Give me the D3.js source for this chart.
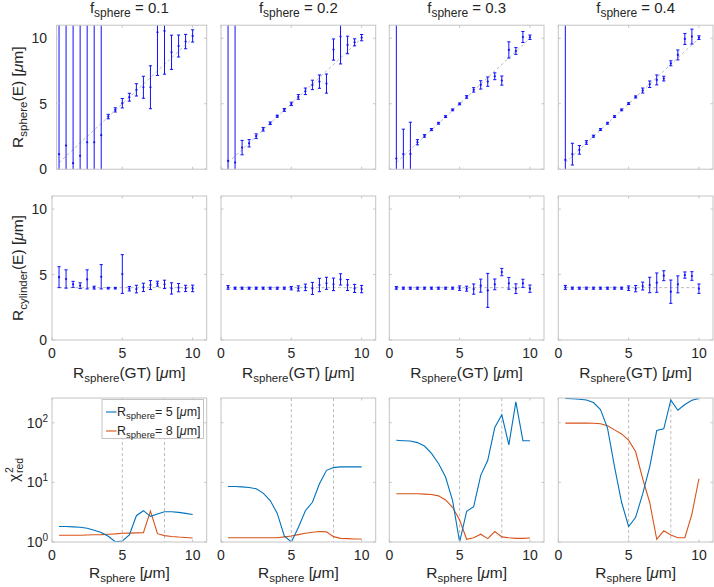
<!DOCTYPE html>
<html><head><meta charset="utf-8">
<script src="https://cdn.jsdelivr.net/npm/d3@7/dist/d3.min.js"></script>
<style>
body{margin:0;background:#fff}
svg{display:block}
text{font-family:"Liberation Sans",Arial,Helvetica,sans-serif;fill:#262626}
</style>
</head><body>
<svg id="c" width="714" height="587"></svg>
<script>
// ---------------- data ----------------
const rGT = [0.5,1,1.5,2,2.5,3,3.5,4,4.5,5,5.5,6,6.5,7,7.5,8,8.5,9,9.5,10];
const fractions = ["0.1","0.2","0.3","0.4"];
const linTicks = [0,5,10];
const logTicks = [1,10,100];
const logTickExp = ["0","1","2"];
const cylinderGT = 4;
const refRadii = [5,8];
const legendLabels = ["5","8"];

const sphereEst01 = [1.15,1.81,0.46,1.02,2.06,2.06,2.60,4.02,4.53,5.04,5.50,6.06,6.26,6.26,10.46,10.56,8.93,9.41,9.75,10.18];
const sphereErr01 = [30,30,30,30,30,30,30,0.17,0.16,0.36,0.30,0.47,0.84,1.64,3.30,3.30,1.31,0.84,0.55,0.47];
const sphereEst02 = [0.64,0.51,1.65,1.98,2.52,3.05,3.51,4.05,4.53,4.99,5.52,5.95,6.44,6.69,6.54,9.14,10.13,9.49,9.69,10.05];
const sphereErr02 = [30,30,0.55,0.28,0.18,0.14,0.10,0.08,0.11,0.13,0.18,0.25,0.36,0.51,0.73,0.81,2.09,0.67,0.27,0.24];
const sphereEst03 = [0.81,1.15,1.17,2.06,2.54,3.03,3.51,4.02,4.53,4.99,5.52,6.06,6.44,6.69,7.10,6.77,9.11,9.03,10.10,10.08];
const sphereErr03 = [30,1.91,2.42,0.20,0.10,0.08,0.07,0.07,0.07,0.07,0.10,0.17,0.32,0.36,0.26,0.35,0.62,0.26,0.42,0.17];
const sphereEst04 = [0.71,1.15,1.48,2.04,2.52,3.03,3.51,4.02,4.53,5.01,5.52,6.01,6.49,6.82,6.92,8.09,8.73,9.95,10.13,10.05];
const sphereErr04 = [30,0.83,0.33,0.14,0.08,0.07,0.07,0.07,0.07,0.07,0.08,0.19,0.25,0.38,0.18,0.19,0.38,0.42,0.57,0.14];

const cylEst01 = [4.80,4.66,4.25,4.15,4.63,4.00,4.83,3.96,3.96,5.04,3.92,3.89,4.02,4.20,4.30,4.25,3.94,4.00,3.94,3.94];
const cylErr01 = [0.80,0.70,0.23,0.22,0.73,0.11,0.93,0.06,0.06,1.48,0.17,0.29,0.32,0.34,0.19,0.32,0.43,0.32,0.24,0.25];
const cylEst02 = [4.02,3.96,3.96,3.96,3.96,3.96,3.96,3.96,3.96,3.96,3.94,4.02,3.94,4.20,4.33,4.25,4.63,4.20,3.94,3.89];
const cylErr02 = [0.14,0.08,0.08,0.08,0.08,0.08,0.08,0.08,0.08,0.13,0.20,0.25,0.46,0.51,0.46,0.48,0.43,0.42,0.31,0.28];
const cylEst03 = [3.98,3.96,3.96,3.96,3.96,3.96,3.96,3.96,3.96,3.96,3.92,3.89,4.15,3.79,4.25,5.19,4.33,3.92,4.33,3.92];
const cylErr03 = [0.10,0.08,0.08,0.08,0.08,0.08,0.08,0.08,0.08,0.17,0.19,0.39,0.50,1.30,0.41,0.28,0.45,0.37,0.31,0.28];
const cylEst04 = [4.02,3.96,3.96,3.96,3.96,3.96,3.96,3.96,3.96,3.96,3.92,4.12,4.20,4.38,4.91,3.69,4.25,4.96,4.89,3.92];
const cylErr04 = [0.15,0.08,0.08,0.08,0.08,0.08,0.08,0.08,0.08,0.17,0.24,0.30,0.59,0.74,0.38,0.89,0.65,0.24,0.33,0.36];

const chi5_01 = [1.82,1.82,1.79,1.77,1.70,1.58,1.44,1.25,1.01,1.04,1.31,2.76,3.35,2.69,2.94,3.22,3.22,3.14,3.02,2.90];
const chi8_01 = [1.30,1.30,1.30,1.30,1.31,1.32,1.33,1.35,1.37,1.40,1.41,1.42,1.43,3.30,1.38,1.28,1.24,1.21,1.19,1.17];
const chi5_02 = [8.55,8.55,8.40,8.20,7.80,6.60,4.95,3.02,1.26,1.00,1.75,3.35,4.64,9.50,15.9,17.7,18.2,18.2,18.2,18.2];
const chi8_02 = [1.18,1.18,1.18,1.18,1.18,1.18,1.18,1.18,1.22,1.26,1.33,1.40,1.46,1.50,1.48,1.23,1.15,1.14,1.12,1.12];
const chi5_03 = [50.8,50.0,49.5,46.4,40.7,30.6,20.7,12.3,4.95,1.00,3.26,3.92,13.1,23.5,83.0,136,42.4,224,50.0,50.0];
const chi8_03 = [6.43,6.43,6.43,6.43,6.35,6.25,5.94,5.08,3.82,2.33,1.11,1.18,1.35,1.14,1.50,1.22,1.18,1.15,1.15,1.17];
const chi5_04 = [255,252,248,240,218,166,81.5,18.2,4.64,1.82,2.6,6.4,18.2,74,79,239,162,202,239,255];
const chi8_04 = [98.7,98.7,98.7,98.7,98,96,89,76,65,51,32.6,11.5,4.6,1.11,1.54,1.31,1.18,1.18,2.94,11.5];

const sphereEst = [sphereEst01,sphereEst02,sphereEst03,sphereEst04];
const sphereErr = [sphereErr01,sphereErr02,sphereErr03,sphereErr04];
const cylEst = [cylEst01,cylEst02,cylEst03,cylEst04];
const cylErr = [cylErr01,cylErr02,cylErr03,cylErr04];
const chi5 = [chi5_01,chi5_02,chi5_03,chi5_04];
const chi8 = [chi8_01,chi8_02,chi8_03,chi8_04];

// ---------------- layout ----------------
const colX = [52, 221, 389.3, 558.3];
const panelW = 154.7;
const rowY = [25.2, 196, 398];
const panelH = 144;
const frameColor = "#c4c4c4";
const barColor = "#1010ff";
const c5 = "#0072BD", c8 = "#D95319";
const dashColor = "#a8a8a8";

const svg = d3.select("#c");
const defs = svg.append("defs");

function rich(sel, parts, size){
  parts.forEach(p=>{
    const t = sel.append("tspan").text(p.t).attr("font-size", p.s || size);
    if (p.dy) t.attr("dy", p.dy);
    if (p.it) t.attr("font-style","italic");
  });
  return sel;
}

function drawFrame(g, x0, x1, y0, y1, xs, ys, xTickVals, yTickVals){
  g.append("rect").attr("x",x0).attr("y",y0).attr("width",x1-x0).attr("height",y1-y0)
    .attr("fill","none").attr("stroke",frameColor).attr("stroke-width",1);
  const tl = 2.5;
  xTickVals.forEach(v=>{
    const x = xs(v);
    if (x < x0-0.1) return;
    g.append("line").attr("x1",x).attr("x2",x).attr("y1",y1).attr("y2",y1-tl).attr("stroke",frameColor);
    g.append("line").attr("x1",x).attr("x2",x).attr("y1",y0).attr("y2",y0+tl).attr("stroke",frameColor);
  });
  yTickVals.forEach(v=>{
    const y = ys(v);
    g.append("line").attr("x1",x0).attr("x2",x0+tl).attr("y1",y).attr("y2",y).attr("stroke",frameColor);
    g.append("line").attr("x1",x1).attr("x2",x1-tl).attr("y1",y).attr("y2",y).attr("stroke",frameColor);
  });
}

function clip(id, x0, y0, w, h){
  defs.append("clipPath").attr("id",id).append("rect").attr("x",x0).attr("y",y0).attr("width",w).attr("height",h);
  return "url(#"+id+")";
}

function errorPanel(row, col, est, err, refLine){
  const L = colX[col], T = rowY[row];
  const xs = d3.scaleLinear().domain([0,11]).range([L, L+panelW]);
  const ys = d3.scaleLinear().domain([0,11]).range([T+panelH, T]);
  const x0 = (row===0 && col===0) ? xs(0.33) : xs(0);
  const g = svg.append("g");
  const inner = g.append("g").attr("clip-path", clip("cl"+row+col, x0, T, L+panelW-x0, panelH));
  inner.append("path")
    .attr("d", d3.line().x(d=>xs(d[0])).y(d=>ys(d[1]))(refLine))
    .attr("fill","none").attr("stroke",dashColor).attr("stroke-width",0.8).attr("stroke-dasharray","3,2.5");
  const cap = 1.6;
  rGT.forEach((r,i)=>{
    const x = xs(r), yl = ys(est[i]-err[i]), yh = ys(est[i]+err[i]);
    inner.append("line").attr("x1",x).attr("x2",x).attr("y1",yl).attr("y2",yh).attr("stroke",barColor).attr("stroke-width",1);
    inner.append("line").attr("x1",x-cap).attr("x2",x+cap).attr("y1",yl).attr("y2",yl).attr("stroke",barColor).attr("stroke-width",1);
    inner.append("line").attr("x1",x-cap).attr("x2",x+cap).attr("y1",yh).attr("y2",yh).attr("stroke",barColor).attr("stroke-width",1);
    inner.append("circle").attr("cx",x).attr("cy",ys(est[i])).attr("r",1.1).attr("fill",barColor);
  });
  drawFrame(g, x0, L+panelW, T, T+panelH, xs, ys, linTicks, linTicks);
  if (col===0){
    linTicks.forEach(v=>{
      g.append("text").attr("x",L-5).attr("y",ys(v)+5).attr("text-anchor","end").attr("font-size",14).text(v);
    });
  }
  if (row===1){
    linTicks.forEach(v=>{
      g.append("text").attr("x",xs(v)).attr("y",T+panelH+18).attr("text-anchor","middle").attr("font-size",14).text(v);
    });
    rich(g.append("text").attr("x",L+panelW/2).attr("y",T+panelH+38).attr("text-anchor","middle"),
      [{t:"R",s:15.5},{t:"sphere",s:11.5,dy:4},{t:"(GT) [",s:15.5,dy:-4},{t:"μ",s:15.5,it:true},{t:"m]",s:15.5}]);
  }
  return g;
}

// top row
fractions.forEach((f,c)=>{
  errorPanel(0, c, sphereEst[c], sphereErr[c], [[0.5,0.5],[10,10]]);
  rich(svg.append("text").attr("x",colX[c]+panelW/2).attr("y",13).attr("text-anchor","middle"),
    [{t:"f",s:15},{t:"sphere",s:12,dy:4},{t:" = "+f,s:15,dy:-4}]);
});
// middle row
fractions.forEach((f,c)=>{
  errorPanel(1, c, cylEst[c], cylErr[c], [[0.5,cylinderGT],[10,cylinderGT]]);
});

// bottom row
fractions.forEach((f,c)=>{
  const L = colX[c], T = rowY[2];
  const xs = d3.scaleLinear().domain([0,11]).range([L, L+panelW]);
  const ys = d3.scaleLog().domain([1,260]).range([T+panelH, T]);
  const g = svg.append("g");
  const inner = g.append("g").attr("clip-path", clip("cb"+c, L, T, panelW, panelH));
  refRadii.forEach(r=>{
    inner.append("line").attr("x1",xs(r)).attr("x2",xs(r)).attr("y1",T).attr("y2",T+panelH)
      .attr("stroke",dashColor).attr("stroke-width",0.8).attr("stroke-dasharray","3,2.5");
  });
  const line = d3.line().x((d,i)=>xs(rGT[i])).y(d=>ys(d));
  inner.append("path").attr("d",line(chi8[c])).attr("fill","none").attr("stroke",c8).attr("stroke-width",1.1);
  inner.append("path").attr("d",line(chi5[c])).attr("fill","none").attr("stroke",c5).attr("stroke-width",1.1);
  drawFrame(g, L, L+panelW, T, T+panelH, xs, ys, linTicks, logTicks);
  linTicks.forEach(v=>{
    g.append("text").attr("x",xs(v)).attr("y",T+panelH+18).attr("text-anchor","middle").attr("font-size",14).text(v);
  });
  rich(g.append("text").attr("x",L+panelW/2).attr("y",T+panelH+36).attr("text-anchor","middle"),
    [{t:"R",s:15.5},{t:"sphere",s:11.5,dy:4},{t:" [",s:15.5,dy:-4},{t:"μ",s:15.5,it:true},{t:"m]",s:15.5}]);
  if (c===0){
    logTicks.forEach((v,i)=>{
      rich(g.append("text").attr("x",L-4).attr("y",ys(v)+5).attr("text-anchor","end"),
        [{t:"10",s:14},{t:logTickExp[i],s:10,dy:-6}]);
    });
    const lg = g.append("g");
    lg.append("rect").attr("x",102).attr("y",T+1.5).attr("width",101.5).attr("height",39)
      .attr("fill","#fff").attr("stroke",frameColor);
    [c5,c8].forEach((col,i)=>{
      const yy = T+14+i*19;
      lg.append("line").attr("x1",106).attr("x2",116.5).attr("y1",yy).attr("y2",yy).attr("stroke",col).attr("stroke-width",1.1);
      rich(lg.append("text").attr("x",117).attr("y",yy+4),
        [{t:"R",s:12.5},{t:"sphere",s:9.5,dy:3},{t:"= "+legendLabels[i]+" [",s:12.5,dy:-3},{t:"μ",s:12.5,it:true},{t:"m]",s:12.5}]);
    });
  }
});

// y labels
rich(svg.append("text").attr("transform","translate(23,"+(rowY[0]+panelH/2)+") rotate(-90)").attr("text-anchor","middle"),
  [{t:"R",s:15.5},{t:"sphere",s:11.5,dy:4},{t:"(E) [",s:15.5,dy:-4},{t:"μ",s:15.5,it:true},{t:"m]",s:15.5}]);
rich(svg.append("text").attr("transform","translate(23,"+(rowY[1]+panelH/2)+") rotate(-90)").attr("text-anchor","middle"),
  [{t:"R",s:15.5},{t:"cylinder",s:11.5,dy:4},{t:"(E) [",s:15.5,dy:-4},{t:"μ",s:15.5,it:true},{t:"m]",s:15.5}]);
const chiG = svg.append("g").attr("transform","translate(19,"+(rowY[2]+panelH/2+12)+") rotate(-90)");
chiG.append("text").attr("x",0).attr("y",0).attr("font-size",15.5).text("χ");
chiG.append("text").attr("x",9).attr("y",-6).attr("font-size",10.5).text("2");
chiG.append("text").attr("x",9).attr("y",3.5).attr("font-size",10.5).text("red");
</script>
</body></html>
